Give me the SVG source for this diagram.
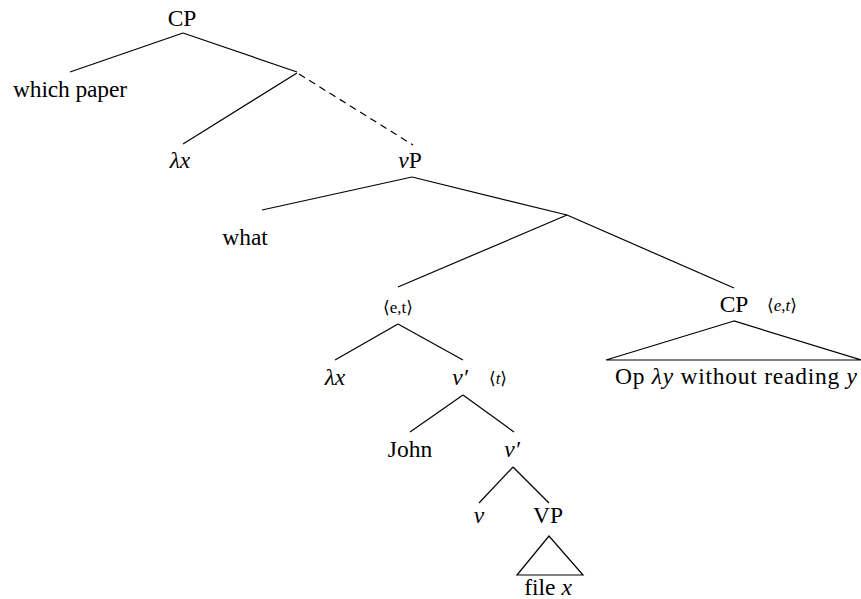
<svg xmlns="http://www.w3.org/2000/svg" width="861" height="599" viewBox="0 0 861 599">
  <style>
    text { font-family: "Liberation Serif", "DejaVu Serif", serif; font-size: 23.5px; fill: #000; text-anchor: middle; }
    .it { font-style: italic; }
    .sm { font-size: 17px; }
    .edge { stroke: #000; stroke-width: 1.2; fill: none; }
    .dash { stroke-dasharray: 7 5; }
    .tri { stroke: #000; stroke-width: 1.2; fill: none; stroke-linejoin: miter; }
  </style>
  <rect width="861" height="599" fill="#fff"/>

  <g id="connectors">
    <line class="edge" x1="183" y1="33" x2="70" y2="72"/>
    <line class="edge" x1="183" y1="33" x2="297" y2="72"/>
    <line class="edge" x1="297" y1="73" x2="183" y2="144"/>
    <line class="edge dash" x1="299" y1="74" x2="413" y2="145"/>
    <line class="edge" x1="412" y1="177" x2="262" y2="210"/>
    <line class="edge" x1="412" y1="177" x2="567" y2="215"/>
    <line class="edge" x1="567" y1="215" x2="398" y2="287"/>
    <line class="edge" x1="567" y1="215" x2="734" y2="288"/>
    <line class="edge" x1="398" y1="324" x2="335" y2="360"/>
    <line class="edge" x1="398" y1="324" x2="463" y2="360"/>
    <line class="edge" x1="463" y1="395" x2="410" y2="432"/>
    <line class="edge" x1="463" y1="395" x2="514" y2="432"/>
    <line class="edge" x1="513" y1="467" x2="479" y2="503"/>
    <line class="edge" x1="513" y1="467" x2="549" y2="503"/>
  </g>

  <g id="cp-root"><text x="182" y="26">CP</text></g>
  <g id="which-paper"><text x="70" y="97" textLength="114" lengthAdjust="spacing">which paper</text></g>
  <g id="lambda-x-1"><text x="180" y="168" class="it">λx</text></g>
  <g id="vP"><text x="410" y="168"><tspan class="it">ν</tspan>P</text></g>
  <g id="what"><text x="245" y="245">what</text></g>
  <g id="et-node"><text x="398" y="313" class="sm">⟨e,t⟩</text></g>
  <g id="cp-adjunct">
    <text x="734" y="312">CP</text>
    <text x="782" y="311" class="sm">⟨<tspan class="it">e</tspan>,<tspan class="it">t</tspan>⟩</text>
    <polygon class="tri" points="734,321 606,360 861,360"/>
    <text x="736" y="384" textLength="242" lengthAdjust="spacing">Op <tspan class="it">λy</tspan> without reading <tspan class="it">y</tspan></text>
  </g>
  <g id="lambda-x-2"><text x="335" y="385" class="it">λx</text></g>
  <g id="v-bar-1">
    <text x="460" y="385" class="it">ν′</text>
    <text x="498" y="384" class="sm">⟨<tspan class="it">t</tspan>⟩</text>
  </g>
  <g id="john"><text x="410" y="457">John</text></g>
  <g id="v-bar-2"><text x="512" y="457" class="it">ν′</text></g>
  <g id="v-head"><text x="479" y="523" class="it">ν</text></g>
  <g id="VP">
    <text x="548" y="523">VP</text>
    <polygon class="tri" points="549,536 517,575 583,575"/>
    <text x="548" y="595">file <tspan class="it">x</tspan></text>
  </g>
</svg>
